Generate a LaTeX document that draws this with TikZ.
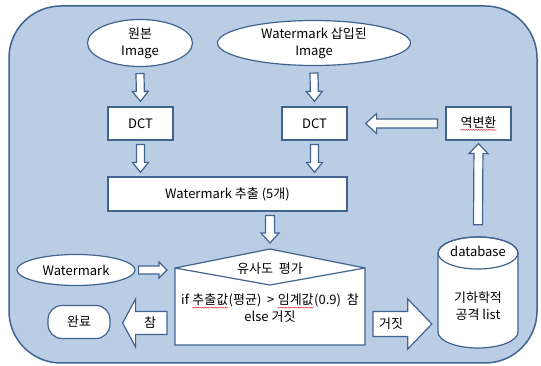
\documentclass[tikz,border=0pt]{standalone}
\usepackage{fontspec}
\setmainfont{Noto Sans CJK KR}
\usetikzlibrary{calc,shapes.geometric,decorations.pathmorphing}
\definecolor{bgfill}{HTML}{B9CDE5}
\definecolor{edge}{HTML}{41648F}
\definecolor{squig}{HTML}{E03030}
\tikzset{
  txt/.style={font=\fontsize{13}{17}\selectfont, align=center, inner sep=0pt},
  box/.style={txt, draw=edge, fill=white, line width=1.2pt},
  rbox/.style={box, rectangle},
  ell/.style={box, ellipse},
  barrow/.style={draw=edge, fill=white, line width=1.2pt, line join=miter},
}
\newcommand\blockarrow[5]{%
  \path (#1) coordinate (bas) (#2) coordinate (bat);
  \path ($(bat)!#5!(bas)$) coordinate (bah);
  \draw[barrow] ($(bas)!#3!90:(bat)$) -- ($(bah)!#3!90:(bat)$) -- ($(bah)!#4!90:(bat)$)
    -- (bat) -- ($(bah)!#4!-90:(bat)$) -- ($(bah)!#3!-90:(bat)$) -- ($(bas)!#3!-90:(bat)$) -- cycle;
}
\newcommand\squigword[1]{\tikz[baseline=(w.base)]{\node[rectangle, draw=none, fill=none, inner sep=0pt, minimum width=0pt, minimum height=0pt, anchor=base](w){#1};
  \draw[squig, line width=0.5pt, decorate, decoration={snake, amplitude=0.5pt, segment length=2.5pt}]
    ([yshift=-1.5pt]w.south west) -- ([yshift=-1.5pt]w.south east);}}
\begin{document}
\begin{tikzpicture}[x=1pt, y=1pt]
\useasboundingbox (0,0) rectangle (541,366);
% background panel
\draw[draw=edge, fill=bgfill, line width=1.5pt, rounded corners=52pt] (9,3) rectangle (537,360);

% top row
\node[ell, minimum width=105pt, minimum height=47pt] (e1) at (140,323) {원본\\Image};
\node[ell, minimum width=193pt, minimum height=45pt] (e2) at (314,323) {Watermark 삽입된\\Image};
\node[rbox, minimum width=65pt, minimum height=33pt] (dct1) at (140.5,242.5) {DCT};
\node[rbox, minimum width=65pt, minimum height=33pt] (dct2) at (314.5,242.5) {DCT};
\node[rbox, minimum width=65pt, minimum height=33pt] (inv) at (478.5,242.5) {\squigword{역변환}};
\node[rbox, minimum width=239pt, minimum height=34pt] (ext) at (227.5,172) {Watermark 추출 (5개)};

% left column
\node[ell, minimum width=118pt, minimum height=31pt] (wm) at (76,96) {Watermark};
\node[box, rounded corners=14pt, minimum width=62pt, minimum height=33pt] (done) at (79,44) {완료};

% evaluation shape
\coordinate (evL) at (175,98);
\coordinate (evT) at (270,117);
\coordinate (evR) at (365,98);
\coordinate (evB) at (270,81);
\coordinate (evBL) at (175,21);
\coordinate (evBR) at (365,21);
\draw[draw=edge, fill=white, line width=1.2pt, line join=miter] (evBL) -- (evL) -- (evT) -- (evR) -- (evBR) -- cycle;
\draw[draw=edge, line width=1.2pt, line join=miter] (evL) -- (evB) -- (evR);
\node[txt] (evtitle) at (270,97) {유사도\ \ 평가};
\node[txt] (evbody) at (270,57.5) {if \squigword{추출값}(평균) \ > \squigword{임계값}(0.9) \ 참\\else 거짓};

% database cylinder
\node[inner sep=0pt, minimum width=80pt, minimum height=111pt] (db) at (478,73.5) {};
\draw[draw=edge, fill=white, line width=1.2pt] (438,113) -- (438,34)
  arc[start angle=180, end angle=360, x radius=40pt, y radius=16pt] -- (518,113)
  arc[start angle=0, end angle=180, x radius=40pt, y radius=16pt] -- cycle;
\draw[draw=edge, line width=1.2pt] (478,113) ellipse [x radius=40pt, y radius=16pt];
\node[txt] (dbtitle) at (478,115) {database};
\node[txt] (dbbody) at (478,60) {기하학적\\공격 list};

% block arrows
\blockarrow{$(e1.south)+(0,-6.5)$}{$(dct1.north)+(0,5)$}{4pt}{8pt}{10pt}
\blockarrow{$(e2.south)+(0,-7)$}{$(dct2.north)+(0,5)$}{4pt}{8pt}{10pt}
\blockarrow{$(dct1.south)+(0,-4)$}{$(dct1.south |- ext.north)+(0,4)$}{4pt}{8pt}{10pt}
\blockarrow{$(dct2.south)+(0,-4)$}{$(dct2.south |- ext.north)+(0,4)$}{4pt}{8pt}{10pt}
\blockarrow{$(inv.west)+(-8,0)$}{$(dct2.east)+(18,0)$}{4.5pt}{10pt}{11pt}
\blockarrow{$(db.north)+(0,12)$}{$(inv.south)+(0,-3)$}{4.5pt}{9.5pt}{10pt}
\blockarrow{$(ext.south -| evT)+(0,-4)$}{$(evT)+(0,6)$}{4.5pt}{9pt}{10pt}
\blockarrow{$(wm.east)+(3,0)$}{$(evL |- wm.east)+(-8,0)$}{4pt}{8pt}{8pt}
\blockarrow{$(evBL |- done.east)+(-8,-1)$}{$(done.east)+(12,-1)$}{11.5pt}{24pt}{13pt}
\node[txt] (tlabel) at (150,43) {참};
\blockarrow{$(evBR |- done.east)+(8,-2)$}{$(db.west |- done.east)+(-6,-2)$}{12.5pt}{25pt}{24pt}
\node[txt] (flabel) at (391,42) {거짓};
\end{tikzpicture}
\end{document}
